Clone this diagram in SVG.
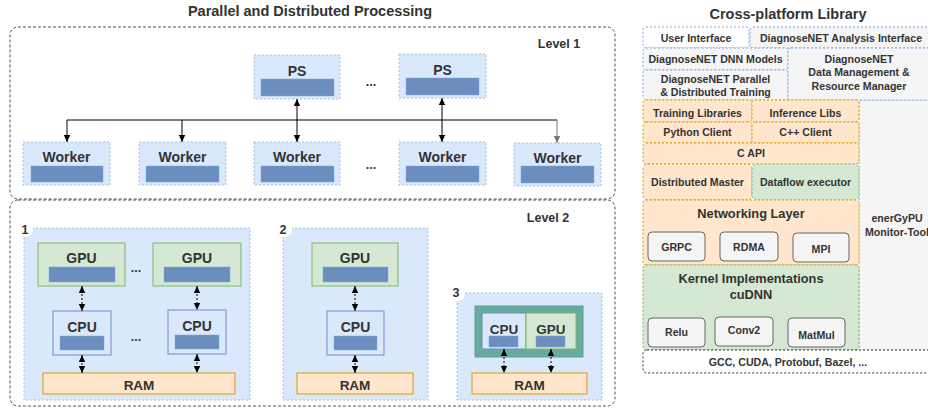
<svg xmlns="http://www.w3.org/2000/svg" width="928" height="408" viewBox="0 0 928 408">
<defs>
<style>
.t{font-family:"Liberation Sans",Arial,sans-serif;font-weight:bold;fill:#333;text-anchor:middle}
.f14{font-size:14px}
.f13{font-size:13.5px}
.f12{font-size:12.5px}
.s{font-size:10.6px}
.big{font-size:12.8px}
.title{font-size:14.5px}
.cont{fill:none;stroke:#555;stroke-dasharray:3 2}
.blue{fill:#dae8fc;stroke:#a6bcdc;stroke-dasharray:2 2}
.bar{fill:#6c8ebf;stroke:#7ea6e0;stroke-width:0.5}
.gpu{fill:#d5e8d4;stroke:#82b366}
.cpu{fill:#dae8fc;stroke:#6c8ebf}
.ram{fill:#ffe6cc;stroke:#d79b00}
.conn{stroke:#000;fill:none}
.dconn{stroke:#000;fill:none;stroke-dasharray:2 2}
.lb{fill:#f5f5f5;stroke:#7ea6e0;stroke-dasharray:2 2}
.lo{fill:#ffe6cc;stroke:#d79b00;stroke-dasharray:2 2}
.lg{fill:#d5e8d4;stroke:#82b366;stroke-dasharray:2 2}
.gb{fill:#f5f5f5;stroke:#666}
</style>
<marker id="ah" viewBox="0 0 8 8" refX="7" refY="4" markerWidth="8" markerHeight="8" markerUnits="userSpaceOnUse" orient="auto-start-reverse"><path d="M0,0.8 L7,4 L0,7.2 Z" fill="#000"/></marker>
<marker id="ahg" viewBox="0 0 8 8" refX="7" refY="4" markerWidth="8" markerHeight="8" markerUnits="userSpaceOnUse" orient="auto-start-reverse"><path d="M0,0.8 L7,4 L0,7.2 Z" fill="#777"/></marker>
</defs>
<rect width="928" height="408" fill="#fff"/>

<!-- Titles -->
<text class="t title" x="310" y="16">Parallel and Distributed Processing</text>
<text class="t title" x="788" y="19">Cross-platform Library</text>

<!-- Level 1 -->
<g id="level1">
<rect class="cont" x="10" y="27" width="605" height="172" rx="8"/>
<text class="t f12" x="559" y="48">Level 1</text>
</g>
<g id="ps1"><rect class="blue" x="254" y="55" width="86" height="44"/><rect class="bar" x="261" y="79" width="73" height="17"/><text class="t f14" x="297" y="76">PS</text></g>
<g id="ps2"><rect class="blue" x="399" y="54" width="87" height="44"/><rect class="bar" x="406" y="78" width="73" height="17"/><text class="t f14" x="442.5" y="75">PS</text></g>
<text class="t f12" x="371" y="86">...</text>
<g id="worker1"><rect class="blue" x="23" y="142" width="87" height="43"/><rect class="bar" x="31" y="166" width="72" height="16"/><text class="t f14" x="66.5" y="162">Worker</text></g>
<g id="worker2"><rect class="blue" x="139" y="142" width="87" height="43"/><rect class="bar" x="146" y="166" width="73" height="16"/><text class="t f14" x="182.5" y="162">Worker</text></g>
<g id="worker3"><rect class="blue" x="254" y="142" width="86" height="43"/><rect class="bar" x="261" y="166" width="73" height="16"/><text class="t f14" x="297" y="162">Worker</text></g>
<text class="t f12" x="371" y="169">...</text>
<g id="worker4"><rect class="blue" x="399" y="142" width="87" height="43"/><rect class="bar" x="406" y="166" width="73" height="16"/><text class="t f14" x="442.5" y="162">Worker</text></g>
<g id="worker5"><rect class="blue" x="514" y="143" width="87" height="43"/><rect class="bar" x="521" y="166" width="73" height="17"/><text class="t f14" x="557.5" y="163">Worker</text></g>

<!-- Level 2 -->
<g id="level2">
<rect class="cont" x="10" y="200" width="605" height="206" rx="8"/>
<text class="t f12" x="548" y="222">Level 2</text>
</g>
<g id="node1">
<rect class="blue" x="24" y="228" width="226" height="172"/>
<rect x="17" y="221" width="16" height="16" rx="7" fill="#fff"/>
<text class="t f12" x="25" y="234">1</text>
</g>
<g id="gpu1a"><rect class="gpu" x="38" y="243" width="87" height="43"/><rect class="bar" x="49" y="267" width="66" height="15"/><text class="t f14" x="81.5" y="263">GPU</text></g>
<g id="gpu1b"><rect class="gpu" x="153" y="243" width="88" height="43"/><rect class="bar" x="164" y="267" width="66" height="15"/><text class="t f14" x="197" y="263">GPU</text></g>
<text class="t f12" x="136" y="272">...</text>
<g id="cpu1a"><rect class="cpu" x="53" y="311" width="58" height="44"/><rect class="bar" x="60" y="336" width="44" height="14"/><text class="t f14" x="82" y="332">CPU</text></g>
<g id="cpu1b"><rect class="cpu" x="168" y="310" width="58" height="44"/><rect class="bar" x="175" y="335" width="44" height="14"/><text class="t f14" x="197" y="331">CPU</text></g>
<text class="t f12" x="136" y="341">...</text>
<g id="ram1"><rect class="ram" x="43" y="373" width="192" height="21"/><text class="t f13" x="139" y="390">RAM</text></g>

<g id="node2">
<rect class="blue" x="283" y="228" width="145" height="172"/>
<rect x="276" y="221" width="16" height="16" rx="7" fill="#fff"/>
<text class="t f12" x="283" y="234">2</text>
</g>
<g id="gpu2"><rect class="gpu" x="312" y="243" width="86" height="43"/><rect class="bar" x="323" y="267" width="65" height="15"/><text class="t f14" x="355" y="263">GPU</text></g>
<g id="cpu2"><rect class="cpu" x="327" y="311" width="57" height="44"/><rect class="bar" x="334" y="336" width="43" height="14"/><text class="t f14" x="355.5" y="332">CPU</text></g>
<g id="ram2"><rect class="ram" x="297" y="373" width="116" height="21"/><text class="t f13" x="355" y="390">RAM</text></g>

<g id="node3">
<rect class="blue" x="457" y="293" width="145" height="107"/>
<rect x="449" y="285" width="16" height="16" rx="7" fill="#fff"/>
<text class="t f12" x="456" y="297">3</text>
</g>
<g id="apu3">
<rect x="475" y="306" width="108" height="51" fill="#67ab9f" stroke="#5f9f93"/>
<rect class="cpu" x="482" y="313" width="44" height="36"/>
<rect class="gpu" x="526" y="313" width="50" height="36"/>
<rect class="bar" x="489" y="336" width="29" height="11"/>
<rect class="bar" x="536" y="336" width="29" height="11"/>
<text class="t f13" x="504" y="334">CPU</text>
<text class="t f13" x="551" y="334">GPU</text>
</g>
<g id="ram3"><rect class="ram" x="472" y="373" width="115" height="21"/><text class="t f13" x="529.5" y="390">RAM</text></g>

<!-- Connectors -->
<g id="connectors">
<path class="conn" d="M67,120 H557"/>
<path class="conn" d="M67,120 V142" marker-end="url(#ah)"/>
<path class="conn" d="M182,120 V142" marker-end="url(#ah)"/>
<path d="M557,120 V143" stroke="#777" fill="none" marker-end="url(#ahg)"/>
<path class="conn" d="M297,99 V142" marker-start="url(#ah)" marker-end="url(#ah)"/>
<path class="conn" d="M442,98 V142" marker-start="url(#ah)" marker-end="url(#ah)"/>
<path class="dconn" d="M82,286 V311" marker-start="url(#ah)" marker-end="url(#ah)"/>
<path class="dconn" d="M82,355 V373" marker-start="url(#ah)" marker-end="url(#ah)"/>
<path class="dconn" d="M197,286 V310" marker-start="url(#ah)" marker-end="url(#ah)"/>
<path class="dconn" d="M197,354 V373" marker-start="url(#ah)" marker-end="url(#ah)"/>
<path class="dconn" d="M355,286 V311" marker-start="url(#ah)" marker-end="url(#ah)"/>
<path class="dconn" d="M355,355 V373" marker-start="url(#ah)" marker-end="url(#ah)"/>
<path class="dconn" d="M504,349 V373" marker-start="url(#ah)" marker-end="url(#ah)"/>
<path class="dconn" d="M551,349 V373" marker-start="url(#ah)" marker-end="url(#ah)"/>
</g>

<!-- Cross-platform library -->
<g id="energypu"><rect class="lb" x="859" y="100" width="80" height="250"/><text class="t s" x="897" y="222">enerGyPU</text><text class="t s" x="897" y="236">Monitor-Tool</text></g>
<g id="user-interface"><rect x="643" y="27" width="106" height="21" rx="3" fill="#fff" stroke="#7ea6e0" stroke-dasharray="2 2"/><text class="t s" x="696" y="42">User Interface</text></g>
<g id="analysis-interface"><rect class="lb" x="750" y="27" width="190" height="21" rx="3"/><text class="t s" x="841" y="42">DiagnoseNET Analysis Interface</text></g>
<g id="dnn-models"><rect class="lb" x="643" y="48" width="145" height="22" rx="3"/><text class="t s" x="715.5" y="63">DiagnoseNET DNN Models</text></g>
<g id="parallel-training"><rect class="lb" x="643" y="70" width="145" height="30" rx="3"/><text class="t s" x="715.5" y="83">DiagnoseNET Parallel</text><text class="t s" x="715.5" y="96">&amp; Distributed Training</text></g>
<g id="data-management"><rect class="lb" x="788" y="48" width="152" height="52" rx="3"/><text class="t s" x="859" y="63">DiagnoseNET</text><text class="t s" x="859" y="76">Data Management &amp;</text><text class="t s" x="859" y="90">Resource Manager</text></g>
<g id="training-libraries"><rect class="lo" x="643" y="100" width="109" height="22" rx="3"/><text class="t s" x="697.5" y="117">Training Libraries</text></g>
<g id="inference-libs"><rect class="lo" x="752" y="100" width="107" height="22" rx="3"/><text class="t s" x="805.5" y="117">Inference Libs</text></g>
<g id="python-client"><rect class="lo" x="643" y="122" width="109" height="21" rx="3"/><text class="t s" x="697.5" y="136">Python Client</text></g>
<g id="cpp-client"><rect class="lo" x="752" y="122" width="107" height="21" rx="3"/><text class="t s" x="805.5" y="136">C++ Client</text></g>
<g id="c-api"><rect class="lo" x="643" y="143" width="216" height="21" rx="3"/><text class="t s" x="751" y="157">C API</text></g>
<g id="distributed-master"><rect class="lo" x="643" y="164" width="109" height="36" rx="5"/><text class="t s" x="697.5" y="186">Distributed Master</text></g>
<g id="dataflow-executor"><rect class="lg" x="752" y="164" width="107" height="36" rx="5"/><text class="t s" x="805.5" y="186">Dataflow executor</text></g>
<g id="networking-layer"><rect class="lo" x="643" y="200" width="216" height="65" rx="3"/><text class="t big" x="751" y="218">Networking Layer</text></g>
<g id="grpc"><rect class="gb" x="648" y="232" width="57" height="29" rx="4"/><text class="t s" x="676.5" y="251">GRPC</text></g>
<g id="rdma"><rect class="gb" x="720" y="232" width="58" height="29" rx="4"/><text class="t s" x="749" y="251">RDMA</text></g>
<g id="mpi"><rect class="gb" x="793" y="233" width="56" height="29" rx="4"/><text class="t s" x="821" y="253">MPI</text></g>
<g id="kernel-implementations"><rect class="lg" x="643" y="265" width="216" height="85" rx="3"/><text class="t big" x="751" y="283">Kernel Implementations</text><text class="t big" x="751" y="299">cuDNN</text></g>
<g id="relu"><rect class="gb" x="648" y="318" width="57" height="29" rx="4"/><text class="t s" x="676.5" y="336">Relu</text></g>
<g id="conv2"><rect class="gb" x="715" y="317" width="58" height="29" rx="4"/><text class="t s" x="744" y="334">Conv2</text></g>
<g id="matmul"><rect class="gb" x="788" y="318" width="57" height="29" rx="4"/><text class="t s" x="816.5" y="339">MatMul</text></g>
<g id="toolchain"><rect x="643" y="350" width="300" height="23" rx="4" fill="#fff" stroke="#333" stroke-dasharray="2 2"/><text class="t s" x="788" y="366">GCC, CUDA, Protobuf, Bazel, ...</text></g>
</svg>
